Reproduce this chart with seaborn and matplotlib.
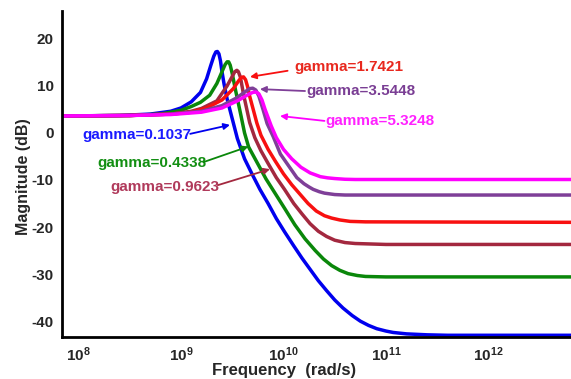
import numpy as np
import pandas as pd
import matplotlib
matplotlib.use("Agg")
import matplotlib.pyplot as plt
import seaborn as sns

# ---- data (log10 of frequency in rad/s, magnitude in dB) ----
gammas = ["0.1037", "0.4338", "0.9623", "1.7421", "3.5448", "5.3248"]

lf_blue = [7.84, 8.4, 8.7, 8.9, 9.0, 9.1, 9.19, 9.25, 9.29, 9.32, 9.34, 9.355, 9.37, 9.385,
           9.40, 9.42, 9.45, 9.50, 9.55, 9.62, 9.69, 9.77, 9.85, 9.93, 10.01, 10.10, 10.18,
           10.26, 10.34, 10.42, 10.50, 10.58, 10.67, 10.75, 10.83, 10.91, 11.0, 11.07, 11.2,
           11.4, 11.6, 12.81]
db_blue = [3.6, 3.7, 4.0, 4.6, 5.3, 6.6, 8.6, 11.5, 14.3, 16.3, 17.2, 17.3, 16.8, 15.3,
           13.0, 10.4, 7.2, 3.0, -1.2, -5.5, -8.6, -12.0, -15.0, -18.2, -21.0, -24.0, -26.6,
           -29.0, -31.4, -33.5, -35.5, -37.2, -38.8, -40.0, -40.9, -41.6, -42.1, -42.4, -42.7,
           -42.9, -43.0, -43.0]

lf_green = [7.84, 8.5, 8.8, 9.0, 9.1, 9.19, 9.28, 9.35, 9.40, 9.43, 9.45, 9.465, 9.48, 9.50,
            9.53, 9.58, 9.62, 9.66, 9.75, 9.83, 9.92, 10.01, 10.11, 10.21, 10.31, 10.39, 10.47,
            10.55, 10.63, 10.72, 10.8, 11.0, 12.81]
db_green = [3.6, 3.7, 4.0, 4.8, 5.6, 6.5, 8.0, 10.5, 13.0, 14.5, 15.1, 15.1, 14.4, 12.6,
            9.3, 4.2, 0.0, -3.0, -6.6, -9.8, -12.9, -16.0, -19.5, -22.5, -25.0, -26.8, -28.2,
            -29.2, -29.9, -30.3, -30.5, -30.6, -30.6]

lf_brown = [7.84, 8.5, 8.9, 9.1, 9.2, 9.35, 9.45, 9.50, 9.525, 9.545, 9.56, 9.58, 9.61, 9.67,
            9.72, 9.78, 9.85, 9.93, 10.01, 10.10, 10.18, 10.26, 10.34, 10.42, 10.5, 10.6, 10.7,
            11.0, 12.81]
db_brown = [3.6, 3.7, 4.0, 4.6, 5.2, 6.8, 10.0, 12.0, 13.0, 13.3, 13.0, 11.8, 8.2, 2.2,
            -1.0, -3.8, -6.5, -9.5, -12.0, -15.0, -17.2, -19.3, -20.9, -22.0, -22.8, -23.3, -23.5,
            -23.7, -23.7]

lf_red = [7.84, 8.5, 8.9, 9.1, 9.25, 9.40, 9.51, 9.56, 9.59, 9.61, 9.63, 9.65, 9.67, 9.74,
          9.78, 9.85, 9.92, 10.0, 10.08, 10.16, 10.24, 10.32, 10.4, 10.47, 10.55, 10.65, 10.8,
          12.81]
db_red = [3.6, 3.7, 4.0, 4.4, 5.3, 7.0, 9.4, 11.0, 11.8, 11.9, 11.3, 9.8, 7.8, 2.1,
          -0.5, -3.5, -6.0, -8.7, -11.0, -13.0, -15.0, -16.6, -17.6, -18.1, -18.5, -18.8, -18.9,
          -19.0]

lf_purple = [7.84, 8.5, 8.9, 9.2, 9.4, 9.54, 9.63, 9.67, 9.70, 9.73, 9.76, 9.80, 9.84, 9.90,
             9.97, 10.05, 10.13, 10.2, 10.25, 10.29, 10.35, 10.4, 10.5, 10.6, 12.81]
db_purple = [3.6, 3.7, 4.0, 4.6, 5.8, 7.4, 8.8, 9.4, 9.5, 9.1, 7.8, 5.0, 2.0, -0.8,
             -4.5, -7.0, -9.5, -10.8, -11.5, -12.0, -12.5, -12.8, -13.1, -13.2, -13.2]

lf_magenta = [7.84, 8.5, 8.9, 9.2, 9.4, 9.55, 9.66, 9.70, 9.73, 9.76, 9.79, 9.82, 9.88, 9.93,
              10.0, 10.08, 10.17, 10.26, 10.31, 10.36, 10.43, 10.5, 10.6, 10.7, 12.81]
db_magenta = [3.6, 3.7, 3.9, 4.4, 5.3, 6.8, 8.2, 8.6, 8.7, 8.3, 7.0, 5.0, 1.5, -1.0,
              -3.5, -5.5, -7.3, -8.5, -8.9, -9.3, -9.55, -9.7, -9.85, -9.9, -9.9]

line_colors = ["#0000ee", "#0a870a", "#a3283f", "#f81010", "#7f3f98", "#ff00ff"]
text_colors = ["#1a1aff", "#138f13", "#b03a5b", "#e8281e", "#7a3e94", "#ff22ff"]

# annotation anchors (log10 freq, dB): text left position, arrow tail, arrow head
text_pos = [(8.04, -0.4), (8.18, -6.3), (8.31, -11.5), (10.11, 13.9), (10.225, 9.0), (10.41, 2.6)]
arrow_tail = [(9.09, -0.2), (9.22, -6.2), (9.36, -11.1), (10.04, 13.2), (10.21, 8.9), (10.40, 2.55)]
arrow_head = [(9.478, 1.7), (9.657, -2.9), (9.868, -7.7), (9.673, 11.9), (9.77, 9.3), (9.966, 3.6)]

y_ticks = [-40, -30, -20, -10, 0, 10, 20]
x_tick_exps = [8, 9, 10, 11, 12]

# ---- build long-form table ----
series = [(lf_blue, db_blue), (lf_green, db_green), (lf_brown, db_brown),
          (lf_red, db_red), (lf_purple, db_purple), (lf_magenta, db_magenta)]
frames = []
for g, (lf, db) in zip(gammas, series):
    frames.append(pd.DataFrame({"freq": 10.0 ** np.array(lf), "mag": db, "gamma": g}))
df = pd.concat(frames, ignore_index=True)

sns.set_style("white")
plt.rcParams["font.family"] = ["Liberation Sans", "DejaVu Sans"]
plt.rcParams["mathtext.fontset"] = "custom"
plt.rcParams["mathtext.bf"] = "Liberation Sans:bold"
plt.rcParams["mathtext.rm"] = "Liberation Sans:bold"

fig = plt.figure(figsize=(5.71, 3.79), dpi=100)
ax = fig.add_axes([62 / 571, 42.3 / 379, 1 - 62 / 571, (336.7 - 11) / 379])

sns.lineplot(data=df, x="freq", y="mag", hue="gamma", hue_order=gammas,
             palette=line_colors, linewidth=2.5, legend=False, ax=ax, sort=False)
for ln in ax.get_lines():
    ln.set_solid_joinstyle("round")
    ln.set_solid_capstyle("round")

ax.set_xscale("log")
ax.set_xlim(10 ** 7.839, 10 ** 12.805)
ax.set_ylim(-43.3, 25.9)

ax.set_xticks([10.0 ** e for e in x_tick_exps])
ax.set_xticklabels([r"$\mathbf{10^{%d}}$" % e for e in x_tick_exps])
ax.xaxis.set_minor_locator(matplotlib.ticker.NullLocator())
ax.set_yticks(y_ticks)
ax.set_yticklabels([str(v) for v in y_ticks])

ax.tick_params(axis="both", direction="in", length=3, width=0.8, color="#888888",
               labelsize=11, pad=6)
for lab in ax.get_yticklabels() + ax.get_xticklabels():
    lab.set_fontweight("bold")

for side in ["top", "right"]:
    ax.spines[side].set_visible(False)
for side in ["left", "bottom"]:
    ax.spines[side].set_color("black")
    ax.spines[side].set_linewidth(2.0)

ax.set_xlabel("Frequency  (rad/s)", fontsize=12, fontweight="bold")
ax.set_ylabel("Magnitude (dB)", fontsize=11.5, fontweight="bold")
ax.xaxis.set_label_coords((284 - 62) / (571 - 62), -0.08)
ax.yaxis.set_label_coords(-0.06, 0.49)

for g, tc, lc, tp, at, ah in zip(gammas, text_colors, line_colors, text_pos, arrow_tail, arrow_head):
    ax.text(10 ** tp[0], tp[1], "gamma=" + g, color=tc, fontsize=11, fontweight="bold",
            ha="left", va="center")
    ax.annotate("", xy=(10 ** ah[0], ah[1]), xytext=(10 ** at[0], at[1]),
                arrowprops=dict(arrowstyle="-|>", color=lc, lw=1.3, mutation_scale=9,
                                shrinkA=0, shrinkB=0))

fig.savefig("out.png", dpi=100)
